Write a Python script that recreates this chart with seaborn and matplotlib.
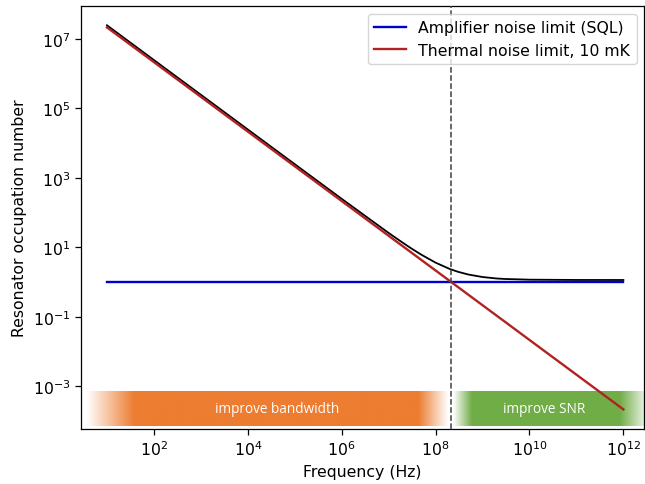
import numpy as np
import matplotlib
matplotlib.use("Agg")
import matplotlib.pyplot as plt
import matplotlib.ticker as mticker
from matplotlib.colors import to_rgb
import seaborn as sns

# ---- data ----
sql_freq = [10.0, 1e12]
sql_n = [1.0, 1.0]

thermal_freq = [10.0, 1e12]
thermal_n = [2.16e7, 2.16e-4]

total_freq = [10.0, 1e2, 1e3, 1e4, 1e5, 1e6, 1e7, 2e7, 3e7, 5e7, 1e8, 2e8,
              3e8, 5e8, 1e9, 2e9, 3e9, 1e10, 1e11, 1e12]
total_n = [2.48e7, 2.48e6, 2.48e5, 2.48e4, 2485, 249.5, 26.0, 13.6, 9.43, 6.12,
           3.63, 2.39, 1.98, 1.65, 1.40, 1.27, 1.23, 1.175, 1.152, 1.15]

crossover_freq = 2.16e8

legend_labels = ["Amplifier noise limit (SQL)", "Thermal noise limit, 10 mK"]
band_labels = ["improve bandwidth", "improve SNR"]
x_ticks = [1e2, 1e4, 1e6, 1e8, 1e10, 1e12]
y_ticks = [1e-3, 1e-1, 1e1, 1e3, 1e5, 1e7]

# ---- figure ----
plt.rcParams["font.family"] = ["DejaVu Sans"]
FS = 11.3

fig = plt.figure(figsize=(6.45, 4.85), dpi=100)
ax = fig.add_axes([81 / 645, 1 - 430 / 485, 1 - 81 / 645 - 0.001, (430 - 7) / 485])

sns.lineplot(x=total_freq, y=total_n, color="black", lw=1.3, ax=ax, estimator=None, sort=False)
sns.lineplot(x=sql_freq, y=sql_n, color="#0000cc", lw=1.7, ax=ax, label=legend_labels[0], estimator=None)
sns.lineplot(x=thermal_freq, y=thermal_n, color="#b22222", lw=1.7, ax=ax, label=legend_labels[1], estimator=None)
ax.axvline(crossover_freq, color="#404040", ls="--", lw=1.1, zorder=3)

ax.set_xscale("log")
ax.set_yscale("log")
xlo, xhi = 0.447, 12.447
ylo, yhi = -4.23, 7.95
ax.set_xlim(10 ** xlo, 10 ** xhi)
ax.set_ylim(10 ** ylo, 10 ** yhi)
ax.xaxis.set_major_locator(mticker.FixedLocator(x_ticks))
ax.yaxis.set_major_locator(mticker.FixedLocator(y_ticks))
ax.xaxis.set_minor_locator(mticker.NullLocator())
ax.yaxis.set_minor_locator(mticker.NullLocator())
ax.xaxis.set_major_formatter(mticker.LogFormatterSciNotation())
ax.yaxis.set_major_formatter(mticker.LogFormatterSciNotation())
ax.tick_params(labelsize=FS, length=4, width=0.9, color="black", labelcolor="black")
for s in ax.spines.values():
    s.set_color("black")
    s.set_linewidth(0.9)
ax.set_xlabel("Frequency (Hz)", fontsize=FS, color="black")
ax.set_ylabel("Resonator occupation number", fontsize=FS, color="black")

leg = ax.legend(loc="upper right", fontsize=FS, frameon=True, fancybox=True)
leg.get_frame().set_edgecolor("#cccccc")
for t in leg.get_texts():
    t.set_color("black")

# ---- gradient bands ----
band_y0 = (430 - 427) / 423
band_y1 = (430 - 392) / 423
bax = ax.inset_axes([0, band_y0, 1, band_y1 - band_y0], zorder=0.5)
bax.set_xlim(xlo, xhi)
bax.set_ylim(0, 1)
bax.axis("off")

nx = 1200
xs = np.linspace(xlo, xhi, nx)

def ramp(x, a, b, c, d):
    return np.clip(np.minimum((x - a) / (b - a), (d - x) / (d - c)), 0, 1)

img = np.zeros((1, nx, 4))
orange = np.array(to_rgb("#ED7D31"))
green = np.array(to_rgb("#70AD47"))
a_or = ramp(xs, 0.56, 1.58, 7.63, 8.26)
a_gr = ramp(xs, 8.37, 8.77, 11.92, 12.55)
for k in range(3):
    img[0, :, k] = np.where(a_or >= a_gr, orange[k], green[k])
img[0, :, 3] = np.maximum(a_or, a_gr)
bax.imshow(img, extent=[xlo, xhi, 0, 1], aspect="auto", interpolation="bilinear")
bax.text(4.63, 0.5, band_labels[0], color="white", ha="center", va="center",
         fontsize=9.8, family=["Open Sans", "DejaVu Sans"])
bax.text(10.32, 0.5, band_labels[1], color="white", ha="center", va="center",
         fontsize=9.8, family=["Open Sans", "DejaVu Sans"])

fig.savefig("out.png", dpi=100)
